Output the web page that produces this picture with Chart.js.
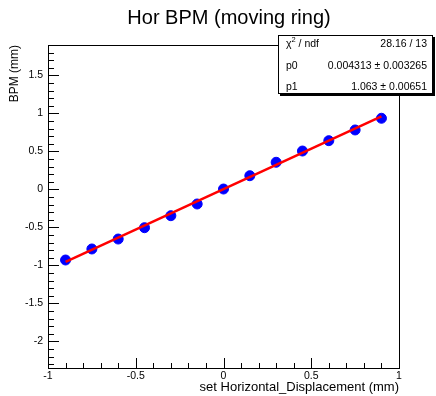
<!DOCTYPE html>
<html>
<head>
<meta charset="utf-8">
<script src="https://cdn.jsdelivr.net/npm/chart.js@4.4.0/dist/chart.umd.min.js"></script>
<style>
  html, body { margin: 0; padding: 0; background: #fff; }
  #wrap { width: 436px; height: 396px; }
</style>
</head>
<body>
<div id="wrap"><canvas id="bpm" width="436" height="396"></canvas></div>
<script>
// ---------- DATA ----------
// Set displacement (mm) vs. measured horizontal BPM reading (mm)
const setDisplacement = [-0.9, -0.75, -0.6, -0.45, -0.3, -0.15, 0, 0.15, 0.3, 0.45, 0.6, 0.75, 0.9];
const bpmReading = [-0.929, -0.784, -0.653, -0.504, -0.346, -0.192, 0.005, 0.180, 0.357, 0.505, 0.641, 0.782, 0.936];

// pol1 fit result, as printed in the stats box
const fitP0 = 0.004313;
const fitP1 = 1.063;
const fitRange = [-0.9, 0.9];
const statNames = ["χ2 / ndf", "p0", "p1"];
const statValues = ["28.16 / 13", "0.004313 ± 0.003265", "1.063 ± 0.00651"];

// axis labels (major ticks)
const xTickLabels = [-1, -0.5, 0, 0.5, 1];
const yTickLabels = [-2, -1.5, -1, -0.5, 0, 0.5, 1, 1.5];

const FONT = "'Liberation Sans', Arial, Helvetica, sans-serif";

// ---------- ROOT-STYLE FRAME / AXES ----------
// Frame with inward ticks, labels, titles and the stats pave, all
// positioned through the chart's own x/y scales.
const rootFrame = {
  id: "rootFrame",
  afterDraw(chart) {
    const { ctx, chartArea: a, scales: { x, y } } = chart;
    ctx.save();
    ctx.strokeStyle = "#000";
    ctx.fillStyle = "#000";
    ctx.lineWidth = 1;

    // frame
    ctx.strokeRect(a.left + 0.5, a.top + 0.5, a.right - a.left, a.bottom - a.top);

    // y ticks: major every 0.5, minor every 0.1
    ctx.beginPath();
    for (let i = -23; i <= 19; i++) {
      const v = i / 10;
      if (v < y.min || v > y.max) continue;
      const py = Math.round(y.getPixelForValue(v)) + 0.5;
      const len = i % 5 === 0 ? 11 : 6;
      ctx.moveTo(a.left, py);
      ctx.lineTo(a.left + len, py);
    }
    // x ticks
    for (let i = -10; i <= 10; i++) {
      const px = Math.round(x.getPixelForValue(i / 10)) + 0.5;
      const len = i % 5 === 0 ? 10 : 5;
      ctx.moveTo(px, a.bottom);
      ctx.lineTo(px, a.bottom - len);
    }
    ctx.stroke();

    // tick labels
    ctx.font = "10.5px " + FONT;
    ctx.textAlign = "right";
    ctx.textBaseline = "middle";
    yTickLabels.forEach(v => ctx.fillText(String(v), a.left - 5, y.getPixelForValue(v)));
    ctx.textAlign = "center";
    xTickLabels.forEach(v => ctx.fillText(String(v), x.getPixelForValue(v), a.bottom + 8));

    // axis titles (right-aligned, ROOT style)
    ctx.font = "13px " + FONT;
    ctx.textAlign = "right";
    ctx.fillText("set Horizontal_Displacement (mm)", a.right, a.bottom + 19);
    ctx.font = "12px " + FONT;
    ctx.save();
    ctx.translate(15, a.top);
    ctx.rotate(-Math.PI / 2);
    ctx.fillText("BPM (mm)", 0, 0);
    ctx.restore();

    // title
    ctx.font = "20px " + FONT;
    ctx.textAlign = "center";
    ctx.fillText("Hor BPM (moving ring)", 229, 18);

    // stats pave with shadow
    const bx = 278, by = 35, bw = 155, bh = 59;
    ctx.fillRect(bx + 2, by + 2, bw, bh);
    ctx.fillStyle = "#fff";
    ctx.fillRect(bx, by, bw, bh);
    ctx.strokeRect(bx + 0.5, by + 0.5, bw - 1, bh - 1);
    ctx.fillStyle = "#000";
    const rows = [44, 66.5, 87];
    ctx.font = "10.5px " + FONT;
    rows.forEach((ry, i) => {
      ctx.textAlign = "left";
      if (i === 0) {
        // chi^2 with raised superscript
        ctx.fillText("χ", bx + 8, ry);
        const cw = ctx.measureText("χ").width;
        ctx.font = "7.5px " + FONT;
        ctx.fillText("2", bx + 8 + cw, ry - 4);
        const sw = ctx.measureText("2").width;
        ctx.font = "10.5px " + FONT;
        ctx.fillText(" / ndf", bx + 8 + cw + sw, ry);
      } else {
        ctx.fillText(statNames[i], bx + 8, ry);
      }
      ctx.textAlign = "right";
      ctx.fillText(statValues[i], bx + bw - 6, ry);
    });
    ctx.restore();
  }
};

// ---------- CHART ----------
const points = setDisplacement.map((sx, i) => ({ x: sx, y: bpmReading[i] }));
const fitLine = fitRange.map(fx => ({ x: fx, y: fitP0 + fitP1 * fx }));

new Chart(document.getElementById("bpm"), {
  type: "scatter",
  data: {
    datasets: [
      {
        label: "BPM",
        data: points,
        backgroundColor: "#0000ff",
        borderColor: "#0000ff",
        borderWidth: 1,
        pointRadius: 5,
        order: 1
      },
      {
        type: "line",
        label: "pol1",
        data: fitLine,
        borderColor: "#ff0000",
        borderWidth: 2.5,
        pointRadius: 0,
        fill: false,
        order: 0
      }
    ]
  },
  options: {
    responsive: false,
    animation: false,
    events: [],
    layout: { padding: { left: 48, right: 37, top: 45, bottom: 28 } },
    scales: {
      x: { type: "linear", min: -1, max: 1, display: false },
      y: { type: "linear", min: -2.35, max: 1.9, display: false }
    },
    plugins: { legend: { display: false }, tooltip: { enabled: false } }
  },
  plugins: [rootFrame]
});
</script>
</body>
</html>
